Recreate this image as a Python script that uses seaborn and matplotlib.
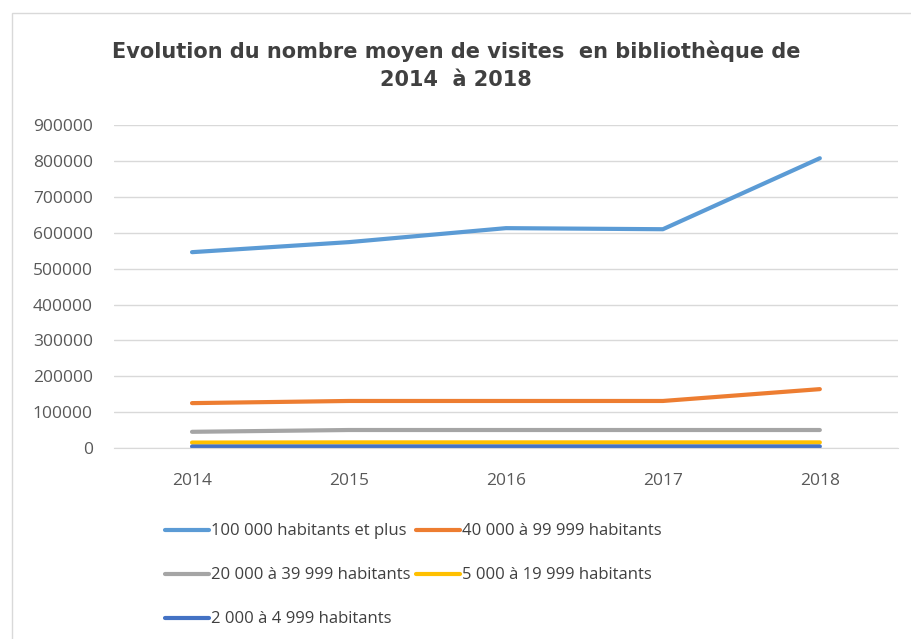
import pandas as pd
import seaborn as sns
import matplotlib.pyplot as plt
from matplotlib.patches import Rectangle

years = [2014, 2015, 2016, 2017, 2018]
series_names = [
    "100 000 habitants et plus",
    "40 000 à 99 999 habitants",
    "20 000 à 39 999 habitants",
    "5 000 à 19 999 habitants",
    "2 000 à 4 999 habitants",
]
v_100k = [546000, 574000, 613000, 610000, 808000]
v_40k = [125000, 131000, 131000, 131000, 164000]
v_20k = [45000, 50000, 50000, 50000, 50000]
v_5k = [15000, 15500, 15500, 15500, 15500]
v_2k = [4000, 4200, 4200, 4200, 4200]
colors = ["#5B9BD5", "#ED7D31", "#A5A5A5", "#FFC000", "#4472C4"]

# long format for seaborn
rows = []
for name, vals in zip(series_names, [v_100k, v_40k, v_20k, v_5k, v_2k]):
    for y, v in zip(years, vals):
        rows.append({"annee": y, "visites": v, "tranche": name})
df = pd.DataFrame(rows)

sns.set_style("white")
plt.rcParams["font.family"] = ["Open Sans", "DejaVu Sans"]

fig = plt.figure(figsize=(9.12, 6.39), dpi=100)
ax = fig.add_axes([0.1245, 0.299, 0.8605, 0.505])

sns.lineplot(
    data=df, x="annee", y="visites", hue="tranche",
    hue_order=series_names, palette=colors,
    linewidth=3, ax=ax, legend=True,
)
for ln in ax.lines:
    ln.set_solid_capstyle("round")

ax.set_xlim(2013.5, 2018.5)
ax.set_ylim(0, 900000)
ax.set_xticks(years)
ax.set_yticks(range(0, 900001, 100000))
ax.set_yticklabels([str(t) for t in range(0, 900001, 100000)])
ax.yaxis.grid(True, color="#D9D9D9", linewidth=1)
ax.set_axisbelow(True)
for s in ["top", "right", "left"]:
    ax.spines[s].set_visible(False)
ax.spines["bottom"].set_color("#D9D9D9")
ax.tick_params(axis="both", colors="#595959", labelsize=12.5, length=0)
ax.tick_params(axis="y", pad=15)
ax.tick_params(axis="x", pad=18)
ax.set_xlabel("")
ax.set_ylabel("")

fig.text(0.5, 0.898, "Evolution du nombre moyen de visites  en bibliothèque de\n2014  à 2018",
         ha="center", va="center", fontsize=15, fontweight="bold", color="#404040",
         family=["Liberation Sans Narrow", "DejaVu Sans"], linespacing=1.45)

# legend laid out row by row like the original
handles, labels = ax.get_legend_handles_labels()
ax.get_legend().remove()
order = [0, 2, 4, 1, 3]
leg = fig.legend([handles[i] for i in order], [labels[i] for i in order],
                 ncol=2, loc="upper left", bbox_to_anchor=(0.181, 0.181),
                 frameon=False, fontsize=12, labelcolor="#404040",
                 handlelength=2.65, handletextpad=0.12, columnspacing=0.3,
                 labelspacing=1.68, borderaxespad=0, borderpad=0)
for h in leg.get_lines():
    h.set_linewidth(3)

fig.patches.append(Rectangle((0.013, -0.01), 1.2, 0.99, transform=fig.transFigure,
                             fill=False, edgecolor="#D9D9D9", linewidth=1))

fig.savefig("out.png", dpi=100)
